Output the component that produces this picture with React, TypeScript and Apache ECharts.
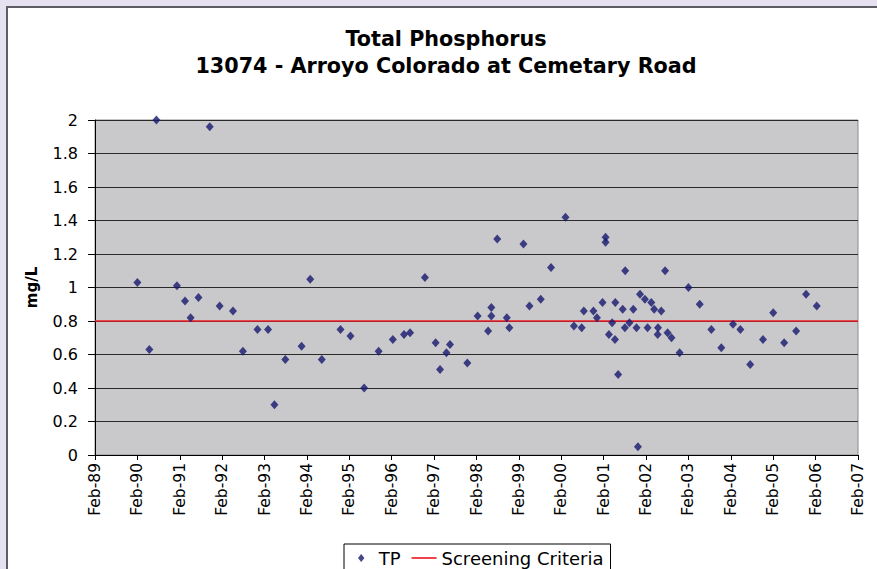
import React, { useEffect, useRef } from "react";
import * as echarts from "echarts";

// ---- data ----
const sampleDates: string[] = [
  "1990-02-01", "1990-05-13", "1990-07-13", "1991-01-07", "1991-03-16", "1991-05-03",
  "1991-07-10", "1991-10-16", "1992-01-10", "1992-05-03", "1992-07-28", "1992-12-01",
  "1993-03-01", "1993-04-25", "1993-07-28", "1993-12-16", "1994-02-27", "1994-06-07",
  "1994-11-16", "1995-02-10", "1995-06-07", "1995-10-10", "1996-02-10", "1996-05-16",
  "1996-07-07", "1996-11-13", "1997-02-13", "1997-03-22", "1997-05-16", "1997-06-16",
  "1997-11-13", "1998-02-10", "1998-05-10", "1998-06-07", "1998-06-07", "1998-07-28",
  "1998-10-19", "1998-11-10", "1999-03-10", "1999-05-01", "1999-08-07", "1999-11-04",
  "2000-03-07", "2000-05-19", "2000-07-25", "2000-08-13", "2000-11-04", "2000-12-04",
  "2001-01-22", "2001-02-16", "2001-02-16", "2001-03-16", "2001-04-13", "2001-05-07",
  "2001-05-10", "2001-06-04", "2001-07-13", "2001-08-01", "2001-08-04", "2001-09-10",
  "2001-10-13", "2001-11-10", "2001-11-22", "2001-12-10", "2002-01-22", "2002-02-13",
  "2002-03-16", "2002-04-10", "2002-05-13", "2002-05-10", "2002-06-10", "2002-07-13",
  "2002-08-04", "2002-09-07", "2002-11-16", "2003-02-01", "2003-05-07", "2003-08-16",
  "2003-11-10", "2004-02-19", "2004-04-22", "2004-07-16", "2004-11-04", "2005-02-01",
  "2005-05-04", "2005-08-16", "2005-11-10", "2006-02-10",
];

const tpValues: number[] = [
  1.03, 0.63, 2.0, 1.01, 0.92, 0.82,
  0.94, 1.96, 0.89, 0.86, 0.62, 0.75,
  0.75, 0.3, 0.57, 0.65, 1.05, 0.57,
  0.75, 0.71, 0.4, 0.62, 0.69, 0.72,
  0.73, 1.06, 0.67, 0.51, 0.61, 0.66,
  0.55, 0.83, 0.74, 0.88, 0.83, 1.29,
  0.82, 0.76, 1.26, 0.89, 0.93, 1.12,
  1.42, 0.77, 0.76, 0.86, 0.86, 0.82,
  0.91, 1.3, 1.27, 0.72, 0.79, 0.69,
  0.91, 0.48, 0.87, 0.76, 1.1, 0.79,
  0.87, 0.76, 0.05, 0.96, 0.93, 0.76,
  0.91, 0.87, 0.76, 0.72, 0.86, 1.1,
  0.73, 0.7, 0.61, 1.0, 0.9, 0.75,
  0.64, 0.78, 0.75, 0.54, 0.69, 0.85,
  0.67, 0.74, 0.96, 0.89,
];

const screeningCriteria = 0.8;
const axisStartDate = "1989-02-01";
const axisEndDate = "2007-02-01";
const tickMonths = 12;
const yMin = 0;
const yMax = 2;
const yInterval = 0.2;
const monthNames = ["Jan", "Feb", "Mar", "Apr", "May", "Jun", "Jul", "Aug", "Sep", "Oct", "Nov", "Dec"];
const titleText = "Total Phosphorus\n13074 - Arroyo Colorado at Cemetary Road";

// months elapsed since the axis start (Feb 1989), with a fraction for the day
const baseYear = Number(axisStartDate.slice(0, 4));
const baseMonth = Number(axisStartDate.slice(5, 7));
function toMonths(d: string): number {
  const y = Number(d.slice(0, 4));
  const m = Number(d.slice(5, 7));
  const day = Number(d.slice(8, 10));
  const dim = new Date(Date.UTC(y, m, 0)).getUTCDate();
  return (y - baseYear) * 12 + (m - baseMonth) + (day - 1) / dim;
}
function monthLabel(v: number): string {
  const mi = Math.round(v) + (baseMonth - 1);
  const y = baseYear + Math.floor(mi / 12);
  const m = ((mi % 12) + 12) % 12;
  return monthNames[m] + "-" + String(y % 100).padStart(2, "0");
}

const FONT = "'DejaVu Sans', 'Liberation Sans', Arial, sans-serif";
const NAVY = "#18186e";
const RED = "#ee1c25";

export default function App() {
  const ref = useRef<HTMLDivElement>(null);

  useEffect(() => {
    if (!ref.current) return;
    const chart = echarts.init(ref.current, undefined, { renderer: "svg" });
    const xMin = toMonths(axisStartDate);
    const xMax = toMonths(axisEndDate);
    const tpData = sampleDates.map((d, i) => [toMonths(d), tpValues[i]]);
    const screenData = [
      [xMin, screeningCriteria],
      [xMax, screeningCriteria],
    ];

    chart.setOption({
      animation: false,
      backgroundColor: "#e6e1f0",
      textStyle: { fontFamily: FONT },
      graphic: [
        {
          type: "rect",
          z: -10,
          silent: true,
          shape: { x: 7, y: 7, width: 900, height: 600 },
          style: { fill: "#ffffff", stroke: "#5c5c64", lineWidth: 2 },
        },
      ],
      title: {
        text: titleText,
        left: 446,
        top: 25,
        textAlign: "center",
        padding: 0,
        textStyle: {
          fontFamily: FONT,
          fontSize: 20.7,
          fontWeight: "bold",
          color: "#000",
          lineHeight: 27,
        },
      },
      legend: {
        left: 344,
        top: 544,
        orient: "horizontal",
        padding: [5, 7, 12, 14],
        itemGap: 11,
        itemWidth: 25,
        itemHeight: 8,
        borderColor: "#000",
        borderWidth: 1,
        backgroundColor: "#fff",
        textStyle: { fontFamily: FONT, fontSize: 18, color: "#000" },
        data: [
          { name: "TP", icon: "path://M4 0L8 5L4 10L0 5Z", itemStyle: { color: NAVY } },
          { name: "Screening Criteria", icon: "path://M0 0H30V2H0Z", itemStyle: { color: RED } },
        ],
      },
      grid: {
        left: 95,
        right: 19,
        top: 120,
        bottom: 114,
        show: true,
        backgroundColor: "#c9c9cb",
        borderColor: "#8a8a8a",
        borderWidth: 1,
        containLabel: false,
      },
      xAxis: {
        type: "value",
        min: xMin,
        max: xMax,
        interval: tickMonths,
        axisLine: { show: true, onZero: false, lineStyle: { color: "#000", width: 1 } },
        axisTick: { show: true, inside: false, length: 5, lineStyle: { color: "#000" } },
        splitLine: { show: false },
        axisLabel: {
          rotate: 90,
          margin: 8,
          fontFamily: FONT,
          fontSize: 15.5,
          color: "#000",
          formatter: (v: number) => monthLabel(v),
        },
      },
      yAxis: {
        type: "value",
        min: yMin,
        max: yMax,
        interval: yInterval,
        name: "mg/L",
        nameLocation: "middle",
        nameGap: 56,
        nameTextStyle: { fontFamily: FONT, fontSize: 15, fontWeight: "bold", color: "#000" },
        axisLine: { show: true, lineStyle: { color: "#000", width: 1 } },
        axisTick: { show: true, inside: false, length: 7, lineStyle: { color: "#000" } },
        splitLine: { show: true, lineStyle: { color: "#2a2a2a", width: 1 } },
        axisLabel: {
          margin: 17,
          fontFamily: FONT,
          fontSize: 16,
          color: "#000",
          formatter: (v: number) => String(Math.round(v * 10) / 10),
        },
      },
      series: [
        {
          name: "TP",
          type: "scatter",
          symbol: "diamond",
          symbolSize: [8, 9],
          clip: false,
          itemStyle: { color: NAVY },
          data: tpData,
          z: 3,
        },
        {
          name: "Screening Criteria",
          type: "line",
          symbol: "none",
          showSymbol: false,
          lineStyle: { color: RED, width: 1.5 },
          itemStyle: { color: RED },
          data: screenData,
          z: 2,
        },
      ],
    });

    return () => chart.dispose();
  }, []);

  return (
    <div
      ref={ref}
      style={{ position: "absolute", left: 0, top: 0, width: 877, height: 569 }}
    />
  );
}
